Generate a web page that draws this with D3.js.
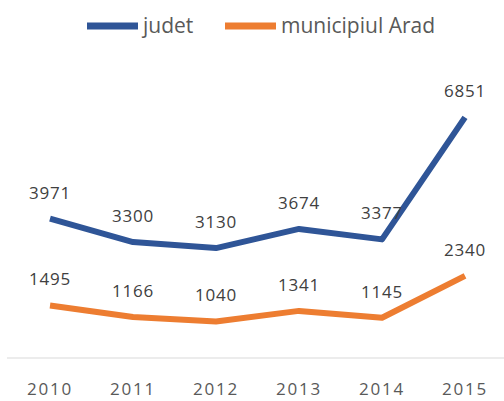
<!DOCTYPE html>
<html>
<head>
<meta charset="utf-8">
<script src="https://cdn.jsdelivr.net/npm/d3@7"></script>
<style>
  body { margin: 0; background: #fff; }
  svg { display: block; font-family: "Open Sans", "DejaVu Sans", sans-serif; }
</style>
</head>
<body>
<div id="chart"></div>
<script>
// --- data ---
const years = ["2010", "2011", "2012", "2013", "2014", "2015"];
const judet = [3971, 3300, 3130, 3674, 3377, 6851];
const municipiu = [1495, 1166, 1040, 1341, 1145, 2340];
const seriesNames = ["judet", "municipiul Arad"];
const seriesColors = ["#2F5597", "#ED7D31"];

const width = 504, height = 401;

const svg = d3.select("#chart").append("svg")
    .attr("width", width)
    .attr("height", height);

const x = d3.scalePoint()
    .domain(years)
    .range([50, 465]);

const y = d3.scaleLinear()
    .domain([0, 8000])
    .range([358, 77]);

// baseline
svg.append("line")
    .attr("x1", 7).attr("x2", width)
    .attr("y1", y(0)).attr("y2", y(0))
    .attr("stroke", "#d9d9d9")
    .attr("stroke-width", 1);

// x axis labels
svg.append("g")
    .selectAll("text")
    .data(years)
    .join("text")
    .attr("x", d => x(d))
    .attr("y", 395)
    .attr("text-anchor", "middle")
    .attr("font-size", 17)
    .attr("letter-spacing", 1.8)
    .attr("fill", "#595959")
    .text(d => d);

const line = d3.line()
    .x((d, i) => x(years[i]))
    .y(d => y(d));

[judet, municipiu].forEach((vals, s) => {
    svg.append("path")
        .datum(vals)
        .attr("d", line)
        .attr("fill", "none")
        .attr("stroke", seriesColors[s])
        .attr("stroke-width", 6)
        .attr("stroke-linejoin", "round");

    svg.append("g")
        .selectAll("text")
        .data(vals)
        .join("text")
        .attr("x", (d, i) => x(years[i]))
        .attr("y", d => y(d) - 20)
        .attr("text-anchor", "middle")
        .attr("font-size", 17)
        .attr("letter-spacing", 0.8)
        .attr("fill", "#404040")
        .text(d => d);
});

// legend
const legendX = [87, 225];
seriesNames.forEach((name, i) => {
    svg.append("line")
        .attr("x1", legendX[i]).attr("x2", legendX[i] + 51)
        .attr("y1", 26).attr("y2", 26)
        .attr("stroke", seriesColors[i])
        .attr("stroke-width", 7);
    svg.append("text")
        .attr("x", legendX[i] + 56)
        .attr("y", 33)
        .attr("font-size", 21)
        .attr("fill", "#595959")
        .text(name);
});
</script>
</body>
</html>
